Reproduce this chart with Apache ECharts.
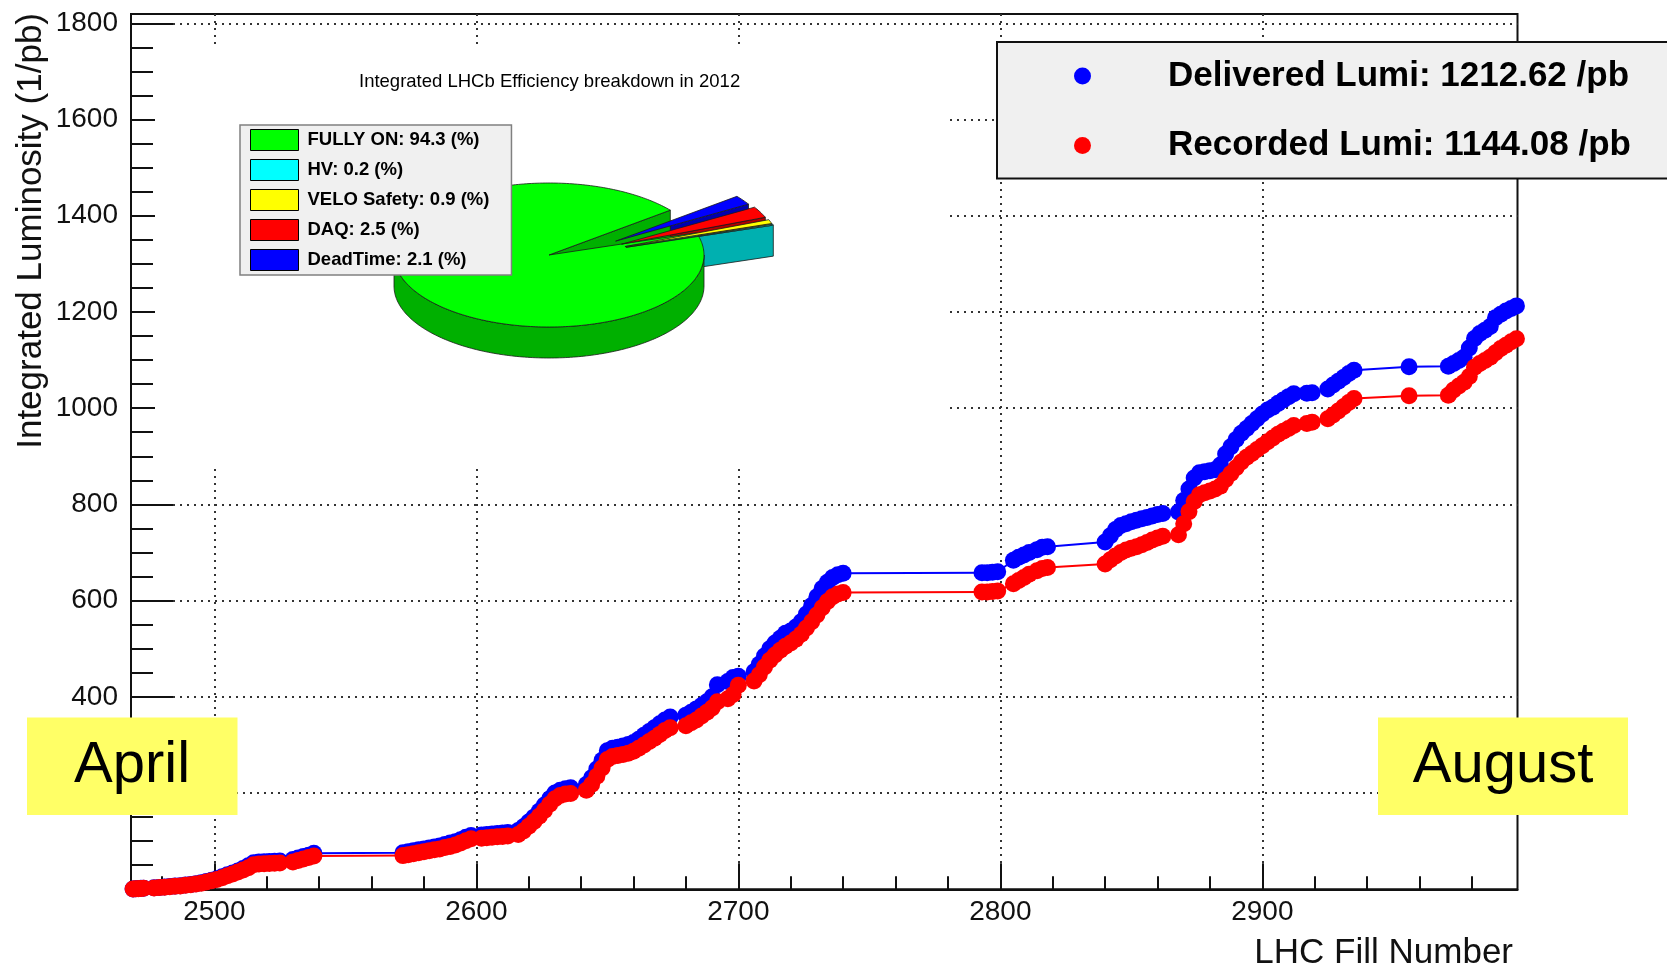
<!DOCTYPE html>
<html>
<head>
<meta charset="utf-8">
<script src="https://cdn.jsdelivr.net/npm/echarts@6/dist/echarts.min.js"></script>
<style>
html,body{margin:0;padding:0;background:#fff;}
#chart{width:1667px;height:968px;}
</style>
</head>
<body>
<div id="chart"></div>
<script>
// ---------------- data ----------------
const fills = [
  2469,2470,2471,2472,2473,2477,2479,2481,2483,2485,
  2487,2489,2491,2493,2495,2497,2499,2501,2503,2505,
  2507,2509,2511,2513,2515,2517,2519,2521,2523,2525,
  2530,2532,2534,2536,2538,2572,2574,2576,2578,2580,
  2582,2584,2586,2588,2590,2592,2594,2596,2598,2602,
  2604,2606,2608,2610,2612,2616,2618,2620,2622,2624,
  2626,2628,2630,2632,2634,2636,2642,2644,2646,2648,
  2650,2652,2654,2656,2658,2660,2662,2664,2666,2668,
  2670,2672,2674,2680,2682,2684,2686,2688,2690,2692,
  2696,2698,2700,2706,2708,2710,2712,2714,2716,2718,
  2720,2722,2724,2726,2728,2730,2732,2734,2736,2738,
  2740,2793,2795,2797,2799,2805,2807,2809,2811,2814,
  2816,2818,2840,2842,2844,2846,2848,2850,2852,2854,
  2856,2858,2860,2862,2868,2870,2872,2874,2876,2878,
  2880,2882,2884,2886,2888,2890,2892,2894,2896,2898,
  2900,2902,2904,2906,2908,2910,2912,2917,2919,2925,
  2927,2929,2931,2933,2935,2956,2971,2973,2975,2977,
  2979,2981,2983,2985,2987,2989,2991,2993,2995,2997
];
const delivered = [
  0.5,1.0,1.5,2.0,2.4,3.0,3.8,4.6,5.6,6.6,
  7.6,8.8,10.0,11.5,13.5,16,19,22,26,30,
  34,38,43,49,55,57,57.5,58,58.5,59,
  62,65,68,71,75,76,78,80,82,84,
  86,88,90,93,96,99,103,108,112,113,
  114,115,116,117,118,122,130,140,150,162,
  175,188,200,206,209,211,218,232,250,268,
  288,293,295,298,301,305,312,320,328,336,
  344,352,358,362,368,375,382,390,400,425,
  432,440,443,452,468,485,500,512,522,532,
  537,545,556,572,590,608,625,638,648,654,
  657,658,658,659,660,684,690,695,700,706,
  711,712,722,735,748,756,760,764,767,770,
  773,776,779,781,784,808,832,855,866,868,
  870,872,882,905,920,935,948,958,968,978,
  988,996,1002,1010,1017,1024,1030,1031,1032,1040,
  1048,1056,1064,1072,1079,1086,1087,1093,1099,1106,
  1125,1145,1155,1162,1170,1188,1195,1202,1207,1212.62
];
const recorded = [
  0.4,0.9,1.3,1.8,2.2,2.8,3.5,4.3,5.2,6.2,
  7.1,8.2,9.4,10.8,12.7,15,18,20.5,24,28,
  32,36,40,45,51,52.5,53,53.5,54,54.5,
  57,60,63,66,69,70,72,74,76,78,
  80,82,84,87,89,92,96,101,105,106,
  107,108,109,110,111,114,121,131,141,152,
  164,177,188,195,198,199,206,218,235,252,
  270,276,278,280,283,287,293,300,307,314,
  322,330,336,340,346,352,360,368,377,390,
  396,405,424,433,446,462,476,487,497,505,
  512,520,530,543,556,570,585,598,608,614,
  617,618,618,619,620,635,642,648,655,662,
  667,669,676,685,693,700,705,709,712,716,
  721,726,730,734,737,760,785,806,820,824,
  828,832,838,852,864,876,888,898,906,914,
  922,930,938,946,952,958,964,968,971,978,
  986,994,1003,1012,1020,1026,1027,1038,1046,1054,
  1066,1085,1093,1099,1106,1115,1124,1131,1138,1144.08
];
const seriesNames = ['Delivered Lumi: 1212.62 /pb', 'Recorded Lumi: 1144.08 /pb'];

const xTickLabels = [2500, 2600, 2700, 2800, 2900];
const xMinorTicks = [2480,2520,2540,2560,2580,2620,2640,2660,2680,2720,2740,2760,2780,2820,2840,2860,2880,2920,2940,2960,2980];
const yTickLabels = [200, 400, 600, 800, 1000, 1200, 1400, 1600, 1800];
const yMinorTicks = [50,100,150,250,300,350,450,500,550,650,700,750,850,900,950,1050,1100,1150,1250,1300,1350,1450,1500,1550,1650,1700,1750];

const pieTitle = 'Integrated LHCb Efficiency breakdown in 2012';
const pieNames = ['FULLY ON: 94.3 (%)', 'HV: 0.2 (%)', 'VELO Safety: 0.9 (%)', 'DAQ: 2.5 (%)', 'DeadTime: 2.1 (%)'];
const pieValues = [94.3, 0.2, 0.9, 2.5, 2.1];

const monthLabels = ['April', 'August'];

// ---------------- styles / layout ----------------
const FONT = '"Liberation Sans", Arial, Helvetica, sans-serif';
const pieTopColors = ['#00ff00', '#00ffff', '#ffff00', '#ff0000', '#0000ff'];
const pieSideColors = ['#00b000', '#00b0b0', '#b0b000', '#b00000', '#0000b0'];
const PIE = { cx: 549, cy: 255, r: 155, k: 0.4645, depth: 31, start: 38.5, explode: 81, exY: 0.3 };

const X_MIN = 2468.2, X_MAX = 2997.4, Y_MAX = 1819.3;

function piePt(C, t, dy) {
  return [C[0] + PIE.r * Math.cos(t), C[1] - PIE.r * PIE.k * Math.sin(t) + (dy || 0)];
}
function pieArc(C, t1, t2, dy) {
  const n = Math.max(2, Math.ceil(Math.abs(t2 - t1) / (Math.PI / 180)));
  const out = [];
  for (let s = 0; s <= n; s++) out.push(piePt(C, t1 + (t2 - t1) * s / n, dy));
  return out;
}

function pieRenderer(i) {
  return function (params, api) {
    let total = 0; pieValues.forEach(v => total += v);
    let acc = 0; for (let j = 0; j < i; j++) acc += pieValues[j];
    const a1 = (PIE.start + acc / total * 360) * Math.PI / 180;
    const a2 = (PIE.start + (acc + pieValues[i]) / total * 360) * Math.PI / 180;
    const mid = (a1 + a2) / 2;
    const ex = i === 0 ? 0 : PIE.explode;
    const C = [PIE.cx + ex * Math.cos(mid), PIE.cy - ex * Math.sin(mid) * PIE.exY];
    const D = PIE.depth;
    const sideZ = i === 0 ? 20 : 10 + (pieValues.length - i);
    const topZ = i === 0 ? 30 : 40;
    const sideStyle = { fill: pieSideColors[i], stroke: '#1a1a1a', lineWidth: 0.8 };
    const children = [];
    // outer rim, visible (front) part only
    [[Math.PI, 2 * Math.PI], [3 * Math.PI, 4 * Math.PI]].forEach(([lo0, hi0]) => {
      const lo = Math.max(a1, lo0), hi = Math.min(a2, hi0);
      if (hi > lo) {
        const pts = pieArc(C, lo, hi, 0).concat(pieArc(C, lo, hi, D).reverse());
        children.push({ type: 'polygon', z2: sideZ, shape: { points: pts }, style: sideStyle });
      }
    });
    // radial cut faces
    if (Math.cos(a1) > 0) {
      const p = piePt(C, a1, 0), q = piePt(C, a1, D);
      children.push({ type: 'polygon', z2: sideZ, shape: { points: [C, p, q, [C[0], C[1] + D]] }, style: sideStyle });
    }
    if (Math.cos(a2) < 0) {
      const p = piePt(C, a2, 0), q = piePt(C, a2, D);
      children.push({ type: 'polygon', z2: sideZ, shape: { points: [C, p, q, [C[0], C[1] + D]] }, style: sideStyle });
    }
    // top face
    children.push({
      type: 'polygon', z2: topZ, shape: { points: [C].concat(pieArc(C, a1, a2, 0)) },
      style: { fill: pieTopColors[i], stroke: '#1a1a1a', lineWidth: 0.8 }
    });
    return { type: 'group', children: children };
  };
}

const chart = echarts.init(document.getElementById('chart'), null, { renderer: 'canvas', width: 1667, height: 968 });

const lineSeries = [delivered, recorded].map((vals, s) => ({
  type: 'line',
  name: seriesNames[s],
  xAxisIndex: 0, yAxisIndex: 0,
  data: fills.map((f, i) => [f, vals[i]]),
  symbol: 'circle', symbolSize: 17, showSymbol: true, showAllSymbol: true,
  lineStyle: { width: 2, color: s === 0 ? '#0000ff' : '#ff0000' },
  itemStyle: { color: s === 0 ? '#0000ff' : '#ff0000' },
  z: 2 + s, silent: true, animation: false
}));

const pieSeries = pieNames.map((name, i) => ({
  type: 'custom',
  name: name,
  coordinateSystem: 'none',
  data: [pieValues[i]],
  itemStyle: { color: pieTopColors[i] },
  renderItem: pieRenderer(i),
  z: 3, silent: true, animation: false
}));

const axisLineStyle = { color: '#111', width: 2 };
const gridLineStyle = { type: [2, 5], color: '#333', width: 2 };

const option = {
  animation: false,
  backgroundColor: '#ffffff',
  textStyle: { fontFamily: FONT },
  title: {
    text: pieTitle, left: 359, top: 72, padding: 0,
    textStyle: { fontFamily: FONT, fontSize: 18.5, fontWeight: 'normal', color: '#000' }
  },
  grid: {
    left: 131, right: 149.5, top: 14, bottom: 78.7,
    show: true, borderColor: '#111', borderWidth: 2, backgroundColor: 'transparent',
    containLabel: false, outerBoundsMode: 'none'
  },
  xAxis: [
    {
      type: 'value', min: X_MIN, max: X_MAX, splitNumber: 5, position: 'bottom',
      axisLine: { show: true, onZero: false, lineStyle: axisLineStyle },
      axisTick: { show: true, inside: true, length: 26, customValues: xTickLabels, lineStyle: axisLineStyle },
      axisLabel: { show: true, customValues: xTickLabels, margin: 9, fontSize: 28, color: '#111', fontFamily: FONT, formatter: v => String(v) },
      splitLine: { show: true, lineStyle: gridLineStyle }
    },
    {
      type: 'value', min: X_MIN, max: X_MAX, position: 'bottom',
      axisLine: { show: false, onZero: false },
      axisTick: { show: true, inside: true, length: 13, customValues: xMinorTicks, lineStyle: axisLineStyle },
      axisLabel: { show: false },
      splitLine: { show: false }
    }
  ],
  yAxis: [
    {
      type: 'value', min: 0, max: Y_MAX, interval: 200, position: 'left',
      axisLine: { show: true, onZero: false, lineStyle: axisLineStyle },
      axisTick: { show: true, inside: true, length: 42, customValues: yTickLabels, lineStyle: axisLineStyle },
      axisLabel: { show: true, customValues: yTickLabels, margin: 13, padding: [4, 0, 0, 0], fontSize: 28, color: '#111', fontFamily: FONT, formatter: v => String(v) },
      splitLine: { show: true, lineStyle: gridLineStyle }
    },
    {
      type: 'value', min: 0, max: Y_MAX, position: 'left',
      axisLine: { show: false, onZero: false },
      axisTick: { show: true, inside: true, length: 22, customValues: yMinorTicks, lineStyle: axisLineStyle },
      axisLabel: { show: false },
      splitLine: { show: false }
    }
  ],
  legend: [
    {
      id: 'lumi', data: seriesNames, orient: 'vertical',
      left: 997, top: 42, padding: [14, 50, 13, 77], itemGap: 29.5,
      itemWidth: 17, itemHeight: 17, icon: 'circle', selectedMode: false,
      backgroundColor: '#f0f0f0', borderColor: '#111', borderWidth: 2, borderRadius: 0,
      textStyle: { fontFamily: FONT, fontSize: 35, fontWeight: 'bold', color: '#000', lineHeight: 40, padding: [0, 0, 0, 72] }
    },
    {
      id: 'pie', data: pieNames, orient: 'vertical',
      left: 240, top: 125, padding: [4, 22, 4, 10], itemGap: 8,
      itemWidth: 48, itemHeight: 21, icon: 'rect', selectedMode: false,
      backgroundColor: '#f0f0f0', borderColor: '#808080', borderWidth: 1.5, borderRadius: 0,
      itemStyle: { borderColor: '#000', borderWidth: 1 },
      textStyle: { fontFamily: FONT, fontSize: 18.5, fontWeight: 'bold', color: '#000', lineHeight: 22, padding: [0, 0, 0, 4] }
    }
  ],
  graphic: [
    { type: 'rect', z: 1, silent: true, shape: { x: 155, y: 47, width: 790, height: 418 }, style: { fill: '#ffffff' } },
    {
      type: 'text', z: 10, silent: true, x: 31, y: 13, rotation: Math.PI / 2,
      style: { text: 'Integrated Luminosity (1/pb)', fontFamily: FONT, fontSize: 35, fill: '#111', align: 'right', verticalAlign: 'middle' }
    },
    {
      type: 'text', z: 10, silent: true, x: 1513, y: 953,
      style: { text: 'LHC Fill Number', fontFamily: FONT, fontSize: 35, fill: '#111', align: 'right', verticalAlign: 'middle' }
    },
    { type: 'rect', z: 100, silent: true, shape: { x: 27, y: 717.5, width: 210.5, height: 97.5 }, style: { fill: '#ffff66' } },
    {
      type: 'text', z: 101, silent: true, x: 132, y: 766,
      style: { text: monthLabels[0], fontFamily: FONT, fontSize: 58, fill: '#000', align: 'center', verticalAlign: 'middle' }
    },
    { type: 'rect', z: 100, silent: true, shape: { x: 1378, y: 717.5, width: 250, height: 97.5 }, style: { fill: '#ffff66' } },
    {
      type: 'text', z: 101, silent: true, x: 1503, y: 766,
      style: { text: monthLabels[1], fontFamily: FONT, fontSize: 58, fill: '#000', align: 'center', verticalAlign: 'middle' }
    }
  ],
  series: lineSeries.concat(pieSeries)
};

chart.setOption(option);
</script>
</body>
</html>
